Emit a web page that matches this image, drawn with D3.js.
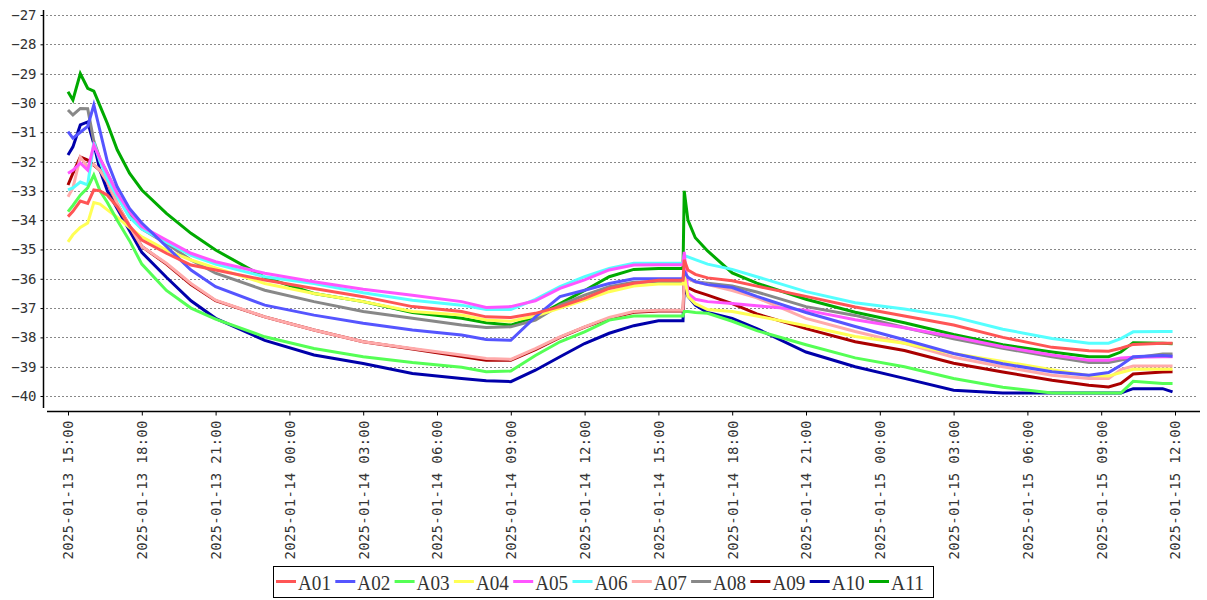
<!DOCTYPE html>
<html lang="en">
<head>
<meta charset="utf-8">
<title>temperatures</title>
<script src="https://d3js.org/d3.v7.min.js"></script>
<style>
  body { margin: 0; background: #fff; }
</style>
</head>
<body>
<svg width="1207" height="600"></svg>
<script>
// hours after 2025-01-13 15:00
var hours = [0,0.2,0.5,0.8,1.05,1.3,1.6,2,2.5,3, 4,5,6,8,10,12,14,16,17,18, 19,20,21,22,23,24,25,25.05,25.2,25.5,26, 27,28,30,32,34,36,38,40,41.5,42.3, 42.8,43.3,44.5,44.9];

var A01 = [-33.88,-33.7,-33.35,-33.43,-32.97,-33.0,-33.15,-33.54,-34.2,-34.68, -35.13,-35.53,-35.7,-36.04,-36.33,-36.61,-36.95,-37.12,-37.3,-37.32, -37.18,-36.95,-36.67,-36.33,-36.15,-36.05,-36.05,-35.35,-35.7,-35.85,-35.97, -36.07,-36.25,-36.6,-36.96,-37.27,-37.58,-38.0,-38.34,-38.46,-38.47, -38.37,-38.24,-38.2,-38.2];
var A02 = [-30.98,-31.2,-31.0,-30.8,-30.07,-30.95,-32.0,-32.86,-33.6,-34.1, -34.9,-35.7,-36.27,-36.9,-37.24,-37.52,-37.75,-37.92,-38.07,-38.1, -37.3,-36.61,-36.39,-36.16,-36.0,-36.0,-36.0,-35.75,-35.95,-36.1,-36.2, -36.3,-36.6,-37.15,-37.63,-38.08,-38.55,-38.9,-39.17,-39.29,-39.2, -38.95,-38.66,-38.62,-38.64];
var A03 = [-33.71,-33.5,-33.15,-32.9,-32.46,-33.0,-33.4,-34.0,-34.7,-35.5, -36.4,-37.0,-37.38,-37.98,-38.38,-38.66,-38.86,-39.02,-39.17,-39.15, -38.62,-38.15,-37.81,-37.41,-37.27,-37.27,-37.27,-37.12,-37.12,-37.15,-37.18, -37.45,-37.77,-38.25,-38.7,-39.0,-39.4,-39.7,-39.9,-39.9,-39.9, -39.9,-39.5,-39.57,-39.57];
var A04 = [-34.74,-34.5,-34.25,-34.1,-33.4,-33.45,-33.65,-33.9,-34.25,-34.57, -35.02,-35.36,-35.63,-36.16,-36.5,-36.78,-37.12,-37.24,-37.41,-37.45, -37.27,-37.0,-36.73,-36.44,-36.25,-36.18,-36.18,-35.9,-36.6,-36.85,-37.05, -37.12,-37.27,-37.6,-37.97,-38.2,-38.55,-38.82,-39.1,-39.3,-39.32, -39.2,-39.09,-39.09,-39.09];
var A05 = [-32.4,-32.3,-32.05,-32.29,-31.44,-31.9,-32.4,-33.09,-33.7,-34.22, -34.68,-35.13,-35.42,-35.81,-36.1,-36.36,-36.56,-36.78,-36.98,-36.95, -36.75,-36.33,-36.04,-35.7,-35.53,-35.52,-35.52,-35.08,-36.5,-36.7,-36.78, -36.84,-36.92,-37.07,-37.4,-37.67,-37.98,-38.32,-38.6,-38.78,-38.78, -38.7,-38.68,-38.66,-38.66];
var A06 = [-32.97,-32.9,-32.7,-32.8,-31.35,-32.0,-32.6,-33.2,-33.9,-34.3, -34.75,-35.2,-35.5,-35.93,-36.16,-36.48,-36.73,-36.9,-37.05,-37.05, -36.7,-36.27,-35.93,-35.65,-35.47,-35.47,-35.47,-35.2,-35.25,-35.35,-35.5, -35.68,-35.93,-36.44,-36.82,-37.03,-37.3,-37.72,-38.04,-38.2,-38.2, -38.04,-37.81,-37.8,-37.8];
var A07 = [-33.2,-32.9,-31.85,-32.18,-32.1,-32.3,-32.7,-33.43,-34.2,-34.9, -35.47,-36.16,-36.73,-37.3,-37.75,-38.15,-38.38,-38.6,-38.72,-38.75, -38.38,-37.98,-37.64,-37.32,-37.12,-37.07,-37.07,-35.9,-36.0,-36.1,-36.2, -36.4,-36.65,-37.35,-37.8,-38.2,-38.68,-39.0,-39.29,-39.4,-39.4, -39.1,-38.98,-38.98,-38.98];
var A08 = [-30.24,-30.41,-30.19,-30.2,-31.3,-31.9,-32.4,-33.1,-33.8,-34.3, -34.8,-35.36,-35.81,-36.39,-36.78,-37.12,-37.35,-37.58,-37.66,-37.64, -37.41,-36.9,-36.56,-36.27,-36.12,-36.1,-36.1,-35.85,-36.0,-36.1,-36.15, -36.25,-36.45,-36.95,-37.25,-37.66,-38.05,-38.37,-38.66,-38.86,-38.86, -38.77,-38.7,-38.57,-38.57];
var A09 = [-32.8,-32.4,-31.84,-31.95,-32.12,-32.3,-32.7,-33.45,-34.2,-34.9, -35.5,-36.2,-36.75,-37.3,-37.75,-38.15,-38.4,-38.65,-38.78,-38.78, -38.42,-38.0,-37.65,-37.35,-37.14,-37.1,-37.1,-36.1,-36.3,-36.42,-36.56, -36.85,-37.2,-37.7,-38.15,-38.45,-38.88,-39.18,-39.46,-39.63,-39.69, -39.57,-39.25,-39.18,-39.17];
var A10 = [-31.78,-31.5,-30.75,-30.65,-31.4,-32.3,-33.0,-33.6,-34.35,-35.1, -35.95,-36.75,-37.35,-38.1,-38.6,-38.89,-39.23,-39.4,-39.48,-39.51, -39.12,-38.66,-38.21,-37.86,-37.6,-37.43,-37.43,-36.2,-36.6,-36.9,-37.15, -37.35,-37.7,-38.5,-39.0,-39.4,-39.8,-39.9,-39.9,-39.9,-39.9, -39.9,-39.75,-39.75,-39.86];
var A11 = [-29.62,-29.9,-29.0,-29.5,-29.6,-30.1,-30.7,-31.6,-32.4,-32.97, -33.77,-34.45,-35.02,-35.95,-36.5,-36.78,-37.15,-37.35,-37.5,-37.58, -37.3,-36.85,-36.4,-35.93,-35.68,-35.65,-35.65,-33.0,-34.0,-34.6,-35.05, -35.8,-36.15,-36.7,-37.14,-37.5,-37.9,-38.25,-38.5,-38.66,-38.66, -38.5,-38.18,-38.2,-38.22];

var names = ["A01","A02","A03","A04","A05","A06","A07","A08","A09","A10","A11"];
var series = [A01,A02,A03,A04,A05,A06,A07,A08,A09,A10,A11];
var colors = ["#f55","#55f","#5f5","#ff5","#f5f","#5ff","#faa","#888","#a00","#00a","#0a0"];

var yTicks = [-27,-28,-29,-30,-31,-32,-33,-34,-35,-36,-37,-38,-39,-40];
var xTickHours = [0,3,6,9,12,15,18,21,24,27,30,33,36,39,42,45];

var start = new Date(2025,0,13,15,0,0);
function at(h){ return new Date(start.getTime() + h*3600000); }

var svg = d3.select("svg");
var font = "'DejaVu Sans Mono', monospace";

var x = d3.scaleTime().domain([at(0), at(45)]).range([68,1175]);
var y = d3.scaleLinear().domain([-27,-40]).range([15,396]);

// grid
svg.append("g").attr("id","grid")
  .selectAll("line")
  .data(yTicks)
  .enter()
  .append("line")
  .attr("x1",46).attr("x2",1197)
  .attr("y1",d=>Math.round(y(d))+0.5).attr("y2",d=>Math.round(y(d))+0.5)
  .attr("stroke","#888")
  .attr("stroke-dasharray","2,2");

// y axis
var gy = svg.append("g").attr("transform","translate(43.5,0)")
  .call(d3.axisLeft(y).tickValues(yTicks).tickSize(3).tickPadding(4));
gy.select(".domain").attr("d","M0,10V408").attr("stroke","#000").attr("stroke-width",1.5);
gy.selectAll("text").attr("font-family",font).attr("font-size",14).attr("fill","#333");

// x axis
var gx = svg.append("g").attr("transform","translate(0,411.5)")
  .call(d3.axisBottom(x).tickValues(xTickHours.map(at)).tickSize(4)
    .tickFormat(d3.timeFormat("%Y-%m-%d %H:%M")));
gx.select(".domain").attr("d","M47,0H1200").attr("stroke","#000").attr("stroke-width",1.5);
gx.selectAll("text")
  .attr("transform","rotate(-90)")
  .attr("x",-9).attr("y",0).attr("dy","0.35em")
  .attr("text-anchor","end")
  .attr("font-family",font).attr("font-size",14).attr("fill","#333")
  .attr("textLength",139).attr("lengthAdjust","spacing");

// lines, last series first so A01 ends on top
var line = d3.line()
  .x((d,i)=>x(at(hours[i])))
  .y(d=>y(d));

svg.append("g").attr("id","lines")
  .selectAll("path")
  .data(series.map((s,i)=>({name:names[i], values:s, color:colors[i]})).reverse())
  .enter()
  .append("path")
  .attr("d",d=>line(d.values))
  .attr("fill","none")
  .attr("stroke",d=>d.color)
  .attr("stroke-width",3);

// legend
var lg = svg.append("g").attr("id","legend");
lg.append("rect")
  .attr("x",273.5).attr("y",566.5).attr("width",660).attr("height",31)
  .attr("fill","#fff").attr("stroke","#000");
var items = lg.selectAll("g.item")
  .data(names)
  .enter()
  .append("g")
  .attr("class","item")
  .attr("transform",(d,i)=>"translate("+(276+i*59.3)+",0)");
items.append("line")
  .attr("x1",0).attr("x2",20).attr("y1",581.5).attr("y2",581.5)
  .attr("stroke",(d,i)=>colors[i]).attr("stroke-width",3);
items.append("text")
  .attr("x",22).attr("y",590)
  .attr("font-family","'Liberation Serif', serif").attr("font-size",22)
  .attr("fill","#333")
  .attr("textLength",33).attr("lengthAdjust","spacingAndGlyphs")
  .text(d=>d);
</script>
</body>
</html>
